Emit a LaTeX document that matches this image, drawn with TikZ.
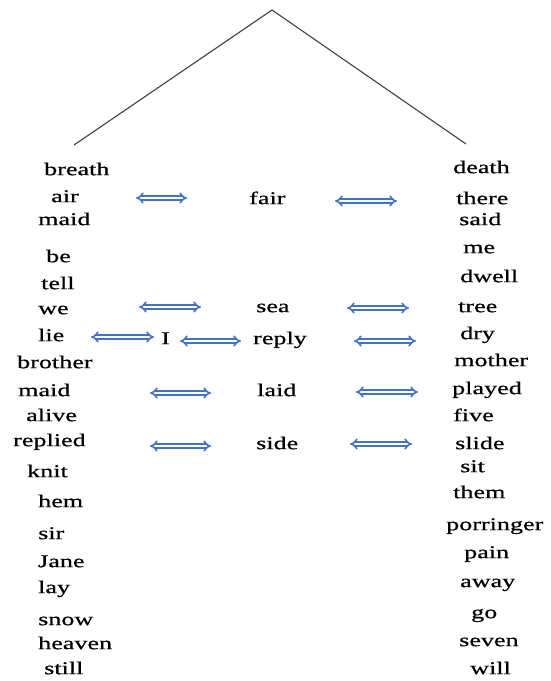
\documentclass[tikz,border=0pt]{standalone}
\usepackage{fontspec}
\newfontfamily\wf[FakeStretch=1.45,FakeBold=0.6]{Liberation Serif}
\usetikzlibrary{arrows.meta}
\definecolor{arrblue}{RGB}{68,114,196}
\begin{document}
\begin{tikzpicture}[x=1pt,y=-1pt,
  word/.style={anchor=mid west,inner sep=0pt,yshift=-3pt,font=\wf\fontsize{18}{18}\selectfont},
  dar/.style={draw=arrblue,line width=1.6pt,double=white,double distance=2pt,{Implies}-{Implies}},
  branch/.style={draw=black!75,line width=1.1pt}]
\useasboundingbox (0,0) rectangle (551,681);
% tree lines
\coordinate (apex) at (272,10);
\coordinate (lend) at (74,145);
\coordinate (rend) at (466,144);
\draw[branch] (lend) -- (apex) -- (rend);
% left column
\node[word] (l1) at (44,170) {breath};
\node[word] (l2) at (51,197) {air};
\node[word] (l3) at (38,220) {maid};
\node[word] (l4) at (46,257) {be};
\node[word] (l5) at (41,284) {tell};
\node[word] (l6) at (38,309) {we};
\node[word] (l7) at (38,336) {lie};
\node[word] (l8) at (17,363) {brother};
\node[word] (l9) at (18,391) {maid};
\node[word] (l10) at (26,416) {alive};
\node[word] (l11) at (13,441) {replied};
\node[word] (l12) at (27,472) {knit};
\node[word] (l13) at (38,502) {hem};
\node[word] (l14) at (38,534) {sir};
\node[word] (l15) at (38,562) {Jane};
\node[word] (l16) at (38,588) {lay};
\node[word] (l17) at (38,620) {snow};
\node[word] (l18) at (38,644) {heaven};
\node[word] (l19) at (44,669) {still};
% middle
\node[word] (m1) at (249,199) {fair};
\node[word] (m2) at (256,307) {sea};
\node[word] (mI) at (161,339) {I};
\node[word] (m3) at (253,339) {reply};
\node[word] (m4) at (257,391) {laid};
\node[word] (m5) at (256,444) {side};
% right column
\node[word] (r1) at (453,168) {death};
\node[word] (r2) at (456,199) {there};
\node[word] (r3) at (459,220) {said};
\node[word] (r4) at (463,248) {me};
\node[word] (r5) at (460,277) {dwell};
\node[word] (r6) at (458,307) {tree};
\node[word] (r7) at (460,334) {dry};
\node[word] (r8) at (454,361) {mother};
\node[word] (r9) at (452,389) {played};
\node[word] (r10) at (453,416) {five};
\node[word] (r11) at (455,444) {slide};
\node[word] (r12) at (460,467) {sit};
\node[word] (r13) at (453,493) {them};
\node[word] (r14) at (446,525) {porringer};
\node[word] (r15) at (464,553) {pain};
\node[word] (r16) at (460,582) {away};
\node[word] (r17) at (471,613) {go};
\node[word] (r18) at (459,641) {seven};
\node[word] (r19) at (470,669) {will};
% arrow ends
\coordinate (a1a) at (136,198); \coordinate (a1b) at (187,198);
\coordinate (a2a) at (335,201); \coordinate (a2b) at (397,201);
\coordinate (a3a) at (139,307); \coordinate (a3b) at (201,307);
\coordinate (a4a) at (347,308); \coordinate (a4b) at (409,308);
\coordinate (a5a) at (91,337);  \coordinate (a5b) at (154,337);
\coordinate (a6a) at (180,341); \coordinate (a6b) at (241,341);
\coordinate (a7a) at (354,341); \coordinate (a7b) at (416,341);
\coordinate (a8a) at (150,393); \coordinate (a8b) at (211,393);
\coordinate (a9a) at (356,392); \coordinate (a9b) at (418,392);
\coordinate (a10a) at (150,446); \coordinate (a10b) at (211,446);
\coordinate (a11a) at (350,444); \coordinate (a11b) at (412,444);
\foreach \i in {1,...,11} {\draw[dar] (a\i a) -- (a\i b);}
\end{tikzpicture}
\end{document}
